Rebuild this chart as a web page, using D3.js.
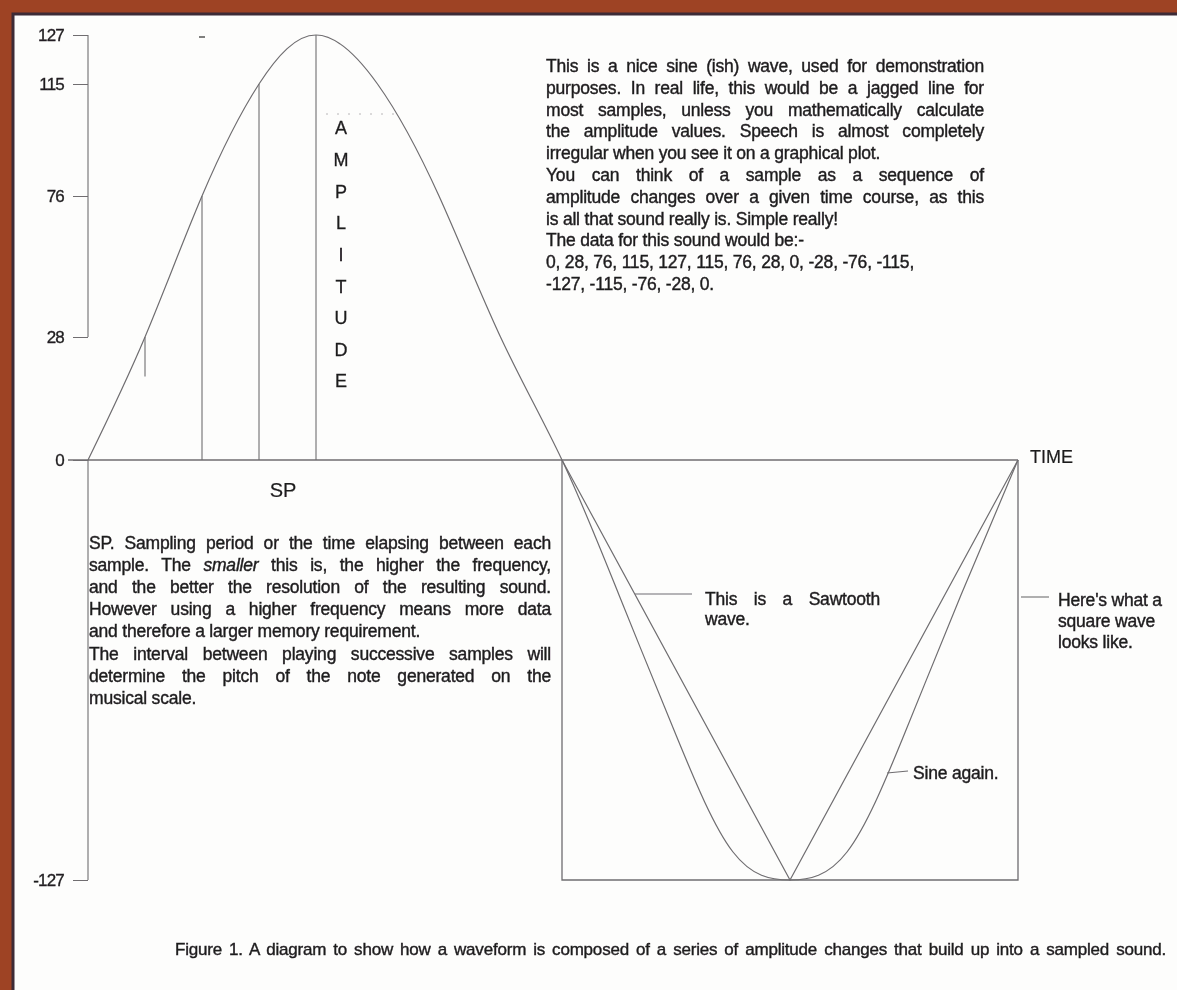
<!DOCTYPE html>
<html>
<head>
<meta charset="utf-8">
<script src="https://cdn.jsdelivr.net/npm/d3@7"></script>
<style>
    html, body { margin: 0; padding: 0; background: #9e4324; }
    svg { display: block; }
    text { font-family: "Liberation Sans", Arial, sans-serif; fill: #1e1c1e; }
</style>
</head>
<body>
<div id="chart"></div>
<script>
// the demo wave, one value per sampling period (as listed in the figure)
const sampleValues = [0, 28, 76, 115, 127, 115, 76, 28, 0, -28, -76, -115, -127, -115, -76, -28, 0];
// samples marked with a vertical "amplitude" line, and the value each line stops at
const markedSamples = [1, 2, 3, 4];
const markedStops = [19, 0, 0, 0];
// sawtooth and square wave over the second half
const sawIndex = [8, 12, 16];
const sawValues = [0, -127, 0];
const squareIndex = [8, 8, 16, 16];
const squareValues = [0, -127, -127, 0];
// axis labels
const yTicks = [127, 115, 76, 28, 0, -127];
const ampLetters = ["A", "M", "P", "L", "I", "T", "U", "D", "E"];

const topLines = [
    "This is a nice sine (ish) wave, used for demonstration",
    "purposes. In real life, this would be a jagged line for",
    "most samples, unless you mathematically calculate",
    "the amplitude values. Speech is almost completely",
    "irregular when you see it on a graphical plot.",
    "You can think of a sample as a sequence of",
    "amplitude changes over a given time course, as this",
    "is all that sound really is. Simple really!",
    "The data for this sound would be:-",
    "0, 28, 76, 115, 127, 115, 76, 28, 0, -28, -76, -115,",
    "-127, -115, -76, -28, 0."
];
const topJustify = [1, 1, 1, 1, 0, 1, 1, 0, 0, 0, 0];

const spLines = [
    "SP. Sampling period or the time elapsing between each",
    "sample. The *smaller* this is, the higher the frequency,",
    "and the better the resolution of the resulting sound.",
    "However using a higher frequency means more data",
    "and therefore a larger memory requirement.",
    "The interval between playing successive samples will",
    "determine the pitch of the note generated on the",
    "musical scale."
];
const spJustify = [1, 1, 1, 1, 0, 1, 1, 0];

const sawLines = ["This is a Sawtooth", "wave."];
const squareLines = ["Here's what a", "square wave", "looks like."];
const caption = "Figure 1. A diagram to show how a waveform is composed of a series of amplitude changes that build up into a sampled sound.";

const W = 1177, H = 990;

const svg = d3.select("#chart").append("svg")
    .attr("width", W)
    .attr("height", H);

const defs = svg.append("defs");
defs.append("filter").attr("id", "soft")
    .append("feGaussianBlur").attr("stdDeviation", 0.45);

// photo frame + paper
svg.append("rect").attr("width", W).attr("height", H).attr("fill", "#9e4324");
svg.append("rect").attr("x", 14).attr("y", 15).attr("width", W - 14).attr("height", H - 15).attr("fill", "#fdfdfc");
svg.append("path")
    .attr("d", `M13,${H} V14 H${W}`)
    .attr("fill", "none").attr("stroke", "#3d2b36").attr("stroke-width", 3);

const g = svg.append("g").attr("filter", "url(#soft)");

// scales: time in sample steps, amplitude (hand drawn, so the spacing is uneven)
const x = d3.scaleLinear().domain([0, 4, 8, 16]).range([88, 316, 562, 1018]);
const y = d3.scaleLinear()
    .domain([-127, -115, -76, -28, 0, 28, 76, 115, 127])
    .range([880, 852, 735, 595, 460, 337, 196, 84, 35]);

const lineColor = "#6f6d70";

// zero line / time axis
g.append("line")
    .attr("x1", x(0) - 20).attr("x2", x(16))
    .attr("y1", y(0)).attr("y2", y(0))
    .attr("stroke", lineColor).attr("stroke-width", 1.3);

// amplitude axis
const yAxis = d3.axisLeft(y)
    .tickValues(yTicks)
    .tickSize(15)
    .tickPadding(9)
    .tickFormat(d => String(d));

const ax = g.append("g")
    .attr("transform", `translate(${x(0)},0)`)
    .attr("font-family", null).attr("font-size", null)
    .call(yAxis);
ax.select(".domain").remove();
ax.selectAll(".tick line").attr("stroke", lineColor);
ax.selectAll(".tick text")
    .attr("fill", "#2a262a")
    .style("font-size", "17px")
    .style("letter-spacing", "-0.8px")
    .style("stroke", "#2a262a")
    .style("stroke-width", 0.35);

// spine: upper part up to the 28 tick, lower part down to -127
[[127, 28], [0, -127]].forEach(([a, b]) => {
    g.append("line")
        .attr("x1", x(0)).attr("x2", x(0))
        .attr("y1", y(a)).attr("y2", y(b))
        .attr("stroke", lineColor).attr("stroke-width", 1.1);
});

// vertical lines showing the amplitude of each sample
g.selectAll(".sample-line")
    .data(markedSamples)
    .enter().append("line")
    .attr("class", "sample-line")
    .attr("x1", d => x(d)).attr("x2", d => x(d))
    .attr("y1", d => y(sampleValues[d]))
    .attr("y2", (d, i) => y(markedStops[i]))
    .attr("stroke", lineColor).attr("stroke-width", 1.1);

// faint dotted guide at 115 and the little mark at the top
g.append("line")
    .attr("x1", x(4) + 10).attr("x2", x(5) + 20)
    .attr("y1", y(115) + 30).attr("y2", y(115) + 30)
    .attr("stroke", "#b8b6b8").attr("stroke-dasharray", "2,9");
g.append("line")
    .attr("x1", x(2) - 3).attr("x2", x(2) + 3)
    .attr("y1", y(127) + 2).attr("y2", y(127) + 2)
    .attr("stroke", "#555").attr("stroke-width", 1.5);

// sine wave
const sineLine = d3.line()
    .x((d, i) => x(i))
    .y(d => y(d))
    .curve(d3.curveNatural);

g.append("path")
    .datum(sampleValues)
    .attr("d", sineLine)
    .attr("fill", "none")
    .attr("stroke", lineColor).attr("stroke-width", 1.2);

// sawtooth
const straight = d3.line().x(d => x(d[0])).y(d => y(d[1]));
g.append("path")
    .datum(d3.zip(sawIndex, sawValues))
    .attr("d", straight)
    .attr("fill", "none")
    .attr("stroke", lineColor).attr("stroke-width", 1.2);

// square wave
g.append("path")
    .datum(d3.zip(squareIndex, squareValues))
    .attr("d", straight)
    .attr("fill", "none")
    .attr("stroke", lineColor).attr("stroke-width", 1.3);

// AMPLITUDE written downwards
const ampY = d3.scalePoint().domain(ampLetters).range([128, 381]);
g.selectAll(".amp")
    .data(ampLetters)
    .enter().append("text")
    .attr("class", "amp")
    .attr("x", 341)
    .attr("y", d => ampY(d))
    .attr("dy", "0.36em")
    .attr("text-anchor", "middle")
    .style("font-size", "18px")
    .style("stroke", "#1e1c1e")
    .style("stroke-width", 0.3)
    .text(d => d);

g.append("text").attr("x", 283).attr("y", 490).attr("dy", "0.36em")
    .attr("text-anchor", "middle").style("font-size", "20px")
    .style("stroke", "#1e1c1e").style("stroke-width", 0.2)
    .text("SP");

g.append("text").attr("x", 1030).attr("y", 457).attr("dy", "0.36em")
    .style("font-size", "18px")
    .style("stroke", "#1e1c1e").style("stroke-width", 0.2)
    .text("TIME");

// paragraphs, justified by stretching the word spaces
function textBlock(lines, justify, x0, x1, y0, dy, size) {
    lines.forEach((ln, i) => {
        const t = g.append("text")
            .attr("x", x0)
            .attr("y", y0 + i * dy)
            .style("font-size", size + "px")
            .style("letter-spacing", "-0.2px")
            .style("stroke", "#1e1c1e")
            .style("stroke-width", 0.4);
        ln.split(/(\*[^*]+\*)/).forEach(part => {
            if (!part) return;
            const it = part.startsWith("*");
            t.append("tspan")
                .text(it ? part.slice(1, -1) : part)
                .style("font-style", it ? "italic" : null);
        });
        if (justify[i]) {
            const w = t.node().getComputedTextLength();
            const gaps = (ln.match(/ /g) || []).length;
            if (gaps) t.style("word-spacing", ((x1 - x0 - w) / gaps) + "px");
        }
    });
}

textBlock(topLines, topJustify, 546, 984, 72, 21.8, 17.5);
textBlock(spLines, spJustify, 89, 551, 549, 22.1, 17.5);
textBlock(sawLines, [1, 0], 705, 880, 605, 20, 17.5);
textBlock(squareLines, [0, 0, 0], 1058, W, 606, 21, 17.5);
textBlock(["Sine again."], [0], 913, W, 779, 20, 17.5);
textBlock([caption], [1], 175, 1166, 955, 20, 17);

// leader lines from the notes to the waves
const leaders = [
    [635, 594, 692, 594],
    [1021, 597, 1049, 597],
    [887, 773, 908, 771]
];
g.selectAll(".leader")
    .data(leaders)
    .enter().append("line")
    .attr("class", "leader")
    .attr("x1", d => d[0]).attr("y1", d => d[1])
    .attr("x2", d => d[2]).attr("y2", d => d[3])
    .attr("stroke", lineColor).attr("stroke-width", 1.1);
</script>
</body>
</html>
